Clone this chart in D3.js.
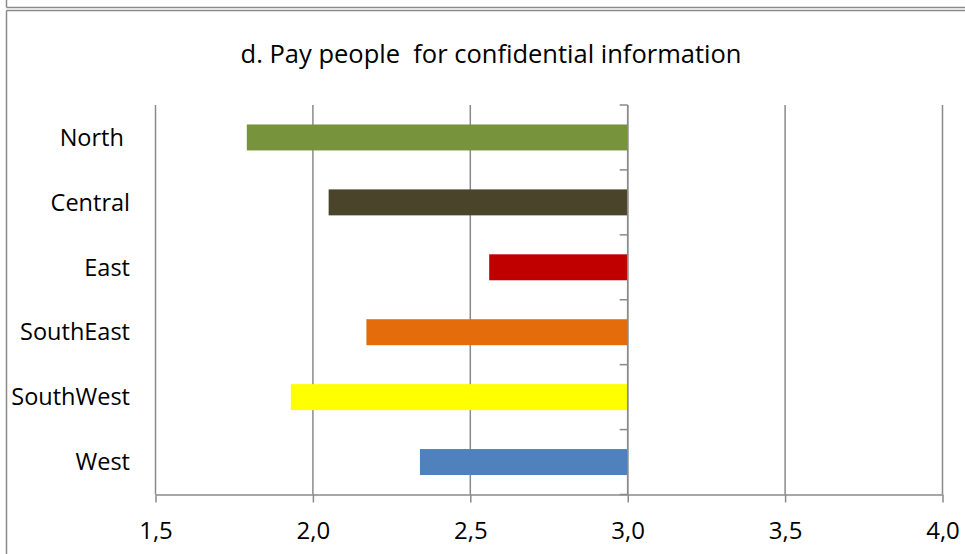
<!DOCTYPE html>
<html lang="en">
  <head>
    <meta charset="UTF-8" />
    <title>Pay people for confidential information</title>
    <style>
      body { margin: 0; background: #fff; }
      svg { display: block; font-family: "Open Sans", sans-serif; }
    </style>
  </head>
  <body>
    <div class="chart"></div>
    <script src="https://d3js.org/d3.v7.min.js"></script>
    <script>
      var regions = ["North ", "Central", "East", "SouthEast", "SouthWest", "West"];
      var scores = [1.79, 2.05, 2.56, 2.17, 1.93, 2.34];
      var barColors = ["#77933C", "#4A452A", "#C00000", "#E46C0A", "#FFFF00", "#4F81BD"];
      var xTicks = [1.5, 2.0, 2.5, 3.0, 3.5, 4.0];
      var baseValue = 3.0;
      var title = "d. Pay people\u00a0 for confidential information";

      var w = 965, h = 554;
      var grey = "#8a8a8a";

      var svg = d3.select(".chart").append("svg")
        .attr("width", w)
        .attr("height", h);

      // frame of the chart above, and this chart's own frame
      svg.append("line").attr("x1", 6.5).attr("x2", 6.5).attr("y1", 0).attr("y2", 7.5)
        .attr("stroke", grey).attr("stroke-width", 1.5);
      svg.append("line").attr("x1", 6.5).attr("x2", w).attr("y1", 7.5).attr("y2", 7.5)
        .attr("stroke", grey).attr("stroke-width", 1.5);
      svg.append("line").attr("x1", 6.5).attr("x2", w).attr("y1", 10.5).attr("y2", 10.5)
        .attr("stroke", grey).attr("stroke-width", 1.5);
      svg.append("line").attr("x1", 6.5).attr("x2", 6.5).attr("y1", 10.5).attr("y2", h)
        .attr("stroke", grey).attr("stroke-width", 1.5);

      svg.append("text")
        .attr("x", 491)
        .attr("y", 63)
        .attr("text-anchor", "middle")
        .attr("font-size", "25.5px")
        .attr("fill", "#000")
        .text(title);

      var x = d3.scaleLinear().domain([1.5, 4.0]).range([155.5, 942.5]);
      var y = d3.scaleBand().domain(regions).range([105, 494.5])
        .paddingInner(0.6).paddingOuter(0.3);

      // vertical gridlines
      svg.append("g").selectAll("line")
        .data(xTicks)
        .enter()
        .append("line")
        .attr("x1", function(d) { return x(d); })
        .attr("x2", function(d) { return x(d); })
        .attr("y1", 105)
        .attr("y2", 494.5)
        .attr("stroke", grey)
        .attr("stroke-width", 1.5);

      // bars from the 3,0 line to each value
      svg.append("g").selectAll("rect")
        .data(regions)
        .enter()
        .append("rect")
        .attr("x", function(d, i) { return x(scores[i]); })
        .attr("y", function(d) { return y(d); })
        .attr("width", function(d, i) { return x(baseValue) - x(scores[i]); })
        .attr("height", y.bandwidth())
        .attr("fill", function(d, i) { return barColors[i]; });

      // x axis
      var xAxis = d3.axisBottom(x)
        .tickValues(xTicks)
        .tickSize(8)
        .tickSizeOuter(0)
        .tickPadding(19.5)
        .tickFormat(function(d) { return d3.format(".1f")(d).replace(".", ","); });

      var gx = svg.append("g")
        .attr("transform", "translate(0,494.5)")
        .call(xAxis);
      gx.select(".domain").attr("stroke", grey).attr("stroke-width", 1.5);
      gx.selectAll(".tick line").attr("stroke", grey).attr("stroke-width", 1.5);
      gx.selectAll(".tick text")
        .attr("font-size", "24px")
        .attr("font-family", "Open Sans, sans-serif")
        .attr("fill", "#000");

      // y axis sits on 3,0 with ticks between the categories
      var step = y.step();
      var bounds = d3.range(regions.length + 1).map(function(i) {
        return y(regions[0]) - (step - y.bandwidth()) / 2 + i * step;
      });
      var ax = svg.append("g");
      ax.append("line")
        .attr("x1", x(baseValue)).attr("x2", x(baseValue))
        .attr("y1", 105).attr("y2", 494.5)
        .attr("stroke", grey).attr("stroke-width", 1.5);
      ax.selectAll(".ytick")
        .data(bounds)
        .enter()
        .append("line")
        .attr("class", "ytick")
        .attr("x1", x(baseValue) - 8).attr("x2", x(baseValue))
        .attr("y1", function(d) { return d; })
        .attr("y2", function(d) { return d; })
        .attr("stroke", grey).attr("stroke-width", 1.5);

      // category labels
      svg.append("g").selectAll("text")
        .data(regions)
        .enter()
        .append("text")
        .attr("x", 130)
        .attr("y", function(d) { return y(d) + y.bandwidth() / 2; })
        .attr("dy", "0.35em")
        .attr("text-anchor", "end")
        .attr("font-size", "23.5px")
        .attr("fill", "#000")
        .style("white-space", "pre")
        .text(function(d) { return d; });
    </script>
  </body>
</html>
